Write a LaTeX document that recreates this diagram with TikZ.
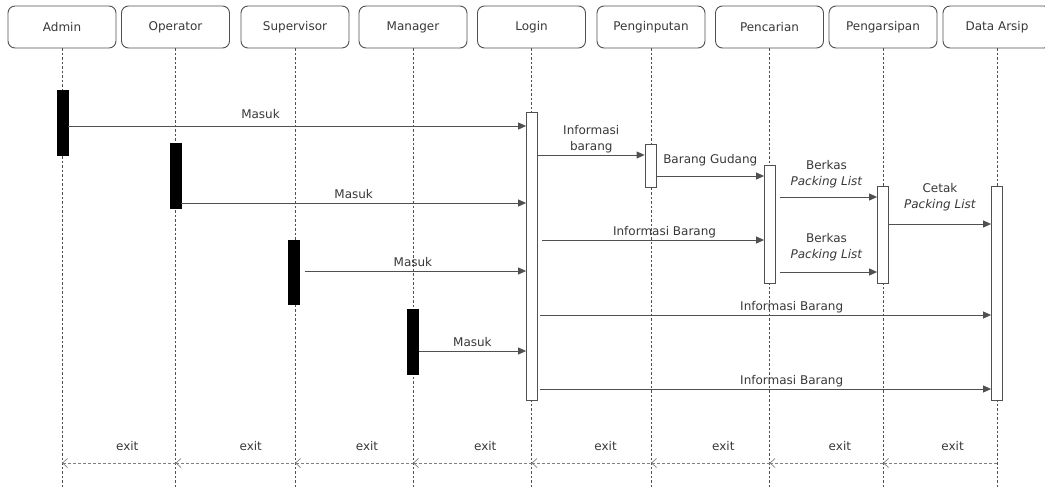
\documentclass[tikz,border=0pt]{standalone}
\usepackage{fontspec}
\setmainfont{DejaVu Sans}
\usepackage{xcolor}
\usetikzlibrary{positioning,calc,arrows.meta}
\definecolor{linegray}{HTML}{505050}
\definecolor{textgray}{HTML}{383838}

\begin{document}
\begin{tikzpicture}[x=1pt,y=-1pt,
        font=\fontsize{12}{16}\selectfont, text=textgray,
        actor/.style={draw=linegray, line width=0.9pt, rounded corners=7pt, minimum width=108pt, minimum height=42pt, inner sep=0pt},
        life/.style={draw=linegray, dash pattern=on 2.5pt off 2pt, line width=0.6pt},
        bar/.style={draw=black, fill=black, minimum width=11pt, inner sep=0pt},
        wbar/.style={draw=linegray, fill=white, line width=0.8pt, minimum width=11pt, inner sep=0pt},
        msg/.style={draw=linegray, line width=0.8pt, -{Triangle[length=8pt,width=7pt]}},
        back/.style={draw=gray, line width=0.7pt, dash pattern=on 3pt off 2pt, {Straight Barb[length=5pt,width=9pt]}-},
        lbl/.style={above, align=center, inner sep=2pt},
    ]
        \useasboundingbox (0,0) rectangle (1045,490);
        % lifelines
        \node (admin) [actor] at (62,27) {Admin};
        \node (operator) [actor] at (175.5,27) {Operator};
        \node (supervisor) [actor] at (295,27) {Supervisor};
        \node (manager) [actor] at (413,27) {Manager};
        \node (login) [actor] at (531.5,27) {Login};
        \node (input) [actor] at (651,27) {Penginputan};
        \node (cari) [actor] at (769.5,27) {Pencarian};
        \node (arsip) [actor] at (883,27) {Pengarsipan};
        \node (data) [actor] at (997,27) {Data Arsip};
        \coordinate (end) at (0,487);
        \draw[life] (admin) -- (admin |- end);
        \draw[life] (operator) -- (operator |- end);
        \draw[life] (supervisor) -- (supervisor |- end);
        \draw[life] (manager) -- (manager |- end);
        \draw[life] (login) -- (login |- end);
        \draw[life] (input) -- (input |- end);
        \draw[life] (cari) -- (cari |- end);
        \draw[life] (arsip) -- (arsip |- end);
        \draw[life] (data) -- (data |- end);
        % activations
        \node (actA) [bar, minimum height=65pt] at (62.5,122.5) {};
        \node (actO) [bar, minimum height=65pt] at (175.5,175.5) {};
        \node (actS) [bar, minimum height=64pt] at (294,272) {};
        \node (actM) [bar, minimum height=65pt] at (413,341.5) {};
        \node (actL) [wbar, minimum height=288pt] at (532,256) {};
        \node (actI) [wbar, minimum height=43pt] at (650.5,165.5) {};
        \node (actC) [wbar, minimum height=118pt] at (770,224) {};
        \node (actR) [wbar, minimum height=97pt] at (883,234.5) {};
        \node (actD) [wbar, minimum height=214pt] at (997,293) {};
        % messages
        \coordinate (m1) at (0,126);
        \coordinate (m2) at (0,155);
        \coordinate (m3) at (0,176);
        \coordinate (m4) at (0,197);
        \coordinate (m5) at (0,203);
        \coordinate (m6) at (0,224);
        \coordinate (m7) at (0,240);
        \coordinate (m8) at (0,272);
        \coordinate (m9) at (0,271);
        \coordinate (m10) at (0,315);
        \coordinate (m11) at (0,351);
        \coordinate (m12) at (0,389);
        \draw[msg] (actA.east |- m1) -- (actL.west |- m1) node[lbl, pos=0.42, inner sep=7pt] {Masuk};
        \draw[msg] (actL.east |- m2) -- (actI.west |- m2) node[lbl, midway] {Informasi\\barang};
        \draw[msg] (actI.east |- m3) -- (actC.west |- m3) node[lbl, midway, inner sep=10pt] {Barang Gudang};
        \draw[msg, shorten <=4pt] (actC.east |- m4) -- (actR.west |- m4) node[lbl, midway, inner sep=9pt] {Berkas\\\textit{Packing List}};
        \draw[msg] (actO.east |- m5) -- (actL.west |- m5) node[lbl, midway, inner sep=4pt] {Masuk};
        \draw[msg] (actR.east |- m6) -- (actD.west |- m6) node[lbl, midway, inner sep=13pt] {Cetak\\\textit{Packing List}};
        \draw[msg, shorten <=4pt] (actL.east |- m7) -- (actC.west |- m7) node[lbl, pos=0.56] {Informasi Barang};
        \draw[msg, shorten <=4pt] (actC.east |- m8) -- (actR.west |- m8) node[lbl, midway, inner sep=11pt] {Berkas\\\textit{Packing List}};
        \draw[msg, shorten <=5pt] (actS.east |- m9) -- (actL.west |- m9) node[lbl, midway, inner sep=4pt] {Masuk};
        \draw[msg, shorten <=2pt] (actL.east |- m10) -- (actD.west |- m10) node[lbl, pos=0.56] {Informasi Barang};
        \draw[msg] (actM.east |- m11) -- (actL.west |- m11) node[lbl, midway, inner sep=4pt] {Masuk};
        \draw[msg, shorten <=2pt] (actL.east |- m12) -- (actD.west |- m12) node[lbl, pos=0.56] {Informasi Barang};
        % exit
        \coordinate (ex) at (0,463);
        \draw[back] (admin |- ex) -- (operator |- ex) node[lbl, pos=0.575, inner sep=12pt] {exit};
        \draw[back] (operator |- ex) -- (supervisor |- ex) node[lbl, pos=0.63, inner sep=12pt] {exit};
        \draw[back] (supervisor |- ex) -- (manager |- ex) node[lbl, pos=0.61, inner sep=12pt] {exit};
        \draw[back] (manager |- ex) -- (login |- ex) node[lbl, pos=0.61, inner sep=12pt] {exit};
        \draw[back] (login |- ex) -- (input |- ex) node[lbl, pos=0.62, inner sep=12pt] {exit};
        \draw[back] (input |- ex) -- (cari |- ex) node[lbl, pos=0.61, inner sep=12pt] {exit};
        \draw[back] (cari |- ex) -- (arsip |- ex) node[lbl, pos=0.62, inner sep=12pt] {exit};
        \draw[back] (arsip |- ex) -- (data |- ex) node[lbl, pos=0.61, inner sep=12pt] {exit};
    \end{tikzpicture}
\end{document}
